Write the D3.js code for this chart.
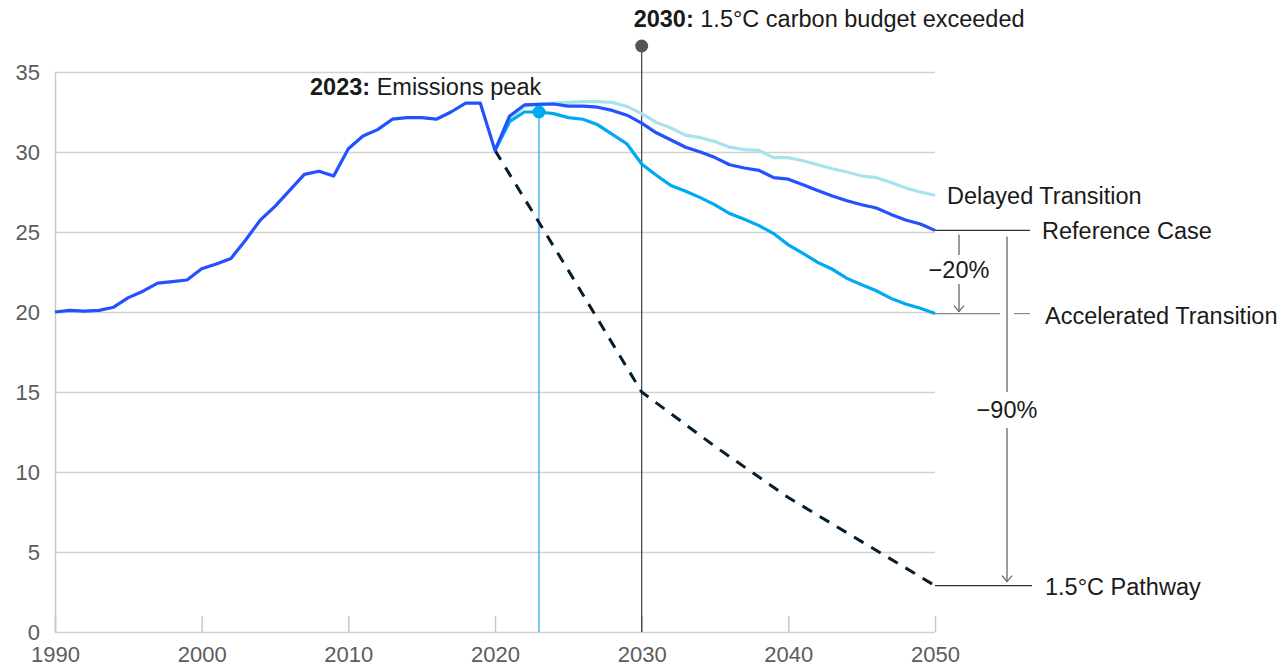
<!DOCTYPE html>
<html>
<head>
<meta charset="utf-8">
<script src="https://cdn.jsdelivr.net/npm/d3@7"></script>
<style>
  body { margin: 0; background: #fff; }
  svg { font-family: "Liberation Sans", Arial, sans-serif; }
  .tick text { fill: #5c5c5c; font-size: 22px; }
  .lbl { fill: #1a1a1a; font-size: 23.5px; }
</style>
</head>
<body>
<svg id="chart" width="1285" height="667"></svg>
<script>
// historical emissions, 1990-2020
const histYears = d3.range(1990, 2021);
const histValues = [
  20.0, 20.1, 20.05, 20.1, 20.3, 20.9, 21.3, 21.8, 21.9, 22.0,
  22.7, 23.0, 23.35, 24.5, 25.75, 26.6, 27.6, 28.6, 28.8, 28.5,
  30.2, 31.0, 31.4, 32.05, 32.15, 32.15, 32.05, 32.5, 33.05, 33.05,
  30.1,
];

// scenarios, 2020-2050
const scenYears = d3.range(2020, 2051);
const referenceCase = [
  30.1, 32.25, 32.94, 32.98, 33.0, 32.87, 32.87, 32.8, 32.6, 32.3,
  31.8, 31.2, 30.75, 30.3, 30.0, 29.65, 29.2, 29.0, 28.85, 28.4,
  28.3, 27.95, 27.6, 27.25, 26.95, 26.7, 26.5, 26.1, 25.75, 25.5,
  25.1,
];
const delayedTransition = [
  30.1, 32.0, 32.85, 33.0, 33.05, 33.1, 33.15, 33.15, 33.1, 32.85,
  32.4, 31.85, 31.5, 31.05, 30.9, 30.65, 30.3, 30.15, 30.1, 29.65,
  29.65, 29.45, 29.2, 28.95, 28.75, 28.5, 28.4, 28.1, 27.75, 27.5,
  27.3,
];
const acceleratedTransition = [
  30.1, 31.9, 32.5, 32.5, 32.4, 32.15, 32.05, 31.7, 31.1, 30.5,
  29.25, 28.55, 27.9, 27.55, 27.15, 26.7, 26.15, 25.8, 25.4, 24.9,
  24.2, 23.67, 23.1, 22.67, 22.1, 21.7, 21.33, 20.85, 20.5, 20.23,
  19.9,
];
const pathwayYears = [2020, 2025, 2030, 2035, 2040, 2045, 2050];
const pathwayValues = [30.1, 22.6, 15.0, 11.6, 8.4, 5.65, 2.9];

const xTicks = [1990, 2000, 2010, 2020, 2030, 2040, 2050];
const yTicks = [0, 5, 10, 15, 20, 25, 30, 35];

const svg = d3.select("#chart");
const x = d3.scaleLinear().domain([1990, 2050]).range([55, 935]);
const y = d3.scaleLinear().domain([0, 35]).range([632, 72]);

const zip = (xs, vs) => xs.map((yr, i) => ({ year: yr, value: vs[i] }));
const line = d3
  .line()
  .x((d) => x(d.year))
  .y((d) => y(d.value));

// y axis + gridlines
const yAxis = svg
  .append("g")
  .attr("transform", "translate(55,0)")
  .call(d3.axisLeft(y).tickValues(yTicks).tickSize(-880).tickSizeOuter(0).tickPadding(15));
yAxis.select(".domain").attr("stroke", "#c8c8c8").attr("stroke-width", 1.5);
yAxis.selectAll(".tick line").attr("stroke", "#d2d2d2").attr("stroke-width", 1.5);

// x axis ticks
const xAxis = svg
  .append("g")
  .attr("transform", "translate(0,632)")
  .call(d3.axisBottom(x).tickValues(xTicks).tickFormat(d3.format("d")).tickSize(-16).tickSizeOuter(0).tickPadding(14));
xAxis.select(".domain").remove();
xAxis.selectAll(".tick line").attr("stroke", "#c8c8c8").attr("stroke-width", 1.5);

// 2030 marker
svg.append("line")
  .attr("x1", x(2030)).attr("x2", x(2030))
  .attr("y1", 46).attr("y2", y(0))
  .attr("stroke", "#3c3c3c").attr("stroke-width", 1.2);
svg.append("circle").attr("cx", x(2030)).attr("cy", 46).attr("r", 6.5).attr("fill", "#555");
const t2030 = svg.append("text").attr("class", "lbl").attr("x", x(2030) - 8).attr("y", 27);
t2030.append("tspan").attr("font-weight", "bold").text("2030:");
t2030.append("tspan").text(" 1.5°C carbon budget exceeded");

// 2023 marker line
svg.append("line")
  .attr("x1", x(2023)).attr("x2", x(2023))
  .attr("y1", y(32.5)).attr("y2", y(0))
  .attr("stroke", "#1aa6e6").attr("stroke-width", 1.2);

// series
svg.append("path").datum(zip(scenYears, delayedTransition))
  .attr("d", line).attr("fill", "none").attr("stroke", "#a8e2ec").attr("stroke-width", 3.2);
svg.append("path").datum(zip(scenYears, acceleratedTransition))
  .attr("d", line).attr("fill", "none").attr("stroke", "#00a9f4").attr("stroke-width", 3.2);
svg.append("path").datum(zip(pathwayYears, pathwayValues))
  .attr("d", line).attr("fill", "none").attr("stroke", "#051c2c")
  .attr("stroke-width", 3).attr("stroke-dasharray", "11,9");
svg.append("path").datum(zip(histYears, histValues).concat(zip(scenYears, referenceCase).slice(1)))
  .attr("d", line).attr("fill", "none").attr("stroke", "#2251ff")
  .attr("stroke-width", 3.2).attr("stroke-linejoin", "round");

svg.append("circle").attr("cx", x(2023)).attr("cy", y(32.5)).attr("r", 6.5).attr("fill", "#00a9f4");
const t2023 = svg.append("text").attr("class", "lbl").attr("x", 310).attr("y", 95);
t2023.append("tspan").attr("font-weight", "bold").text("2023:");
t2023.append("tspan").text(" Emissions peak");

// end labels
const endY = (arr) => y(arr[arr.length - 1]);
svg.append("text").attr("class", "lbl").attr("x", 947).attr("y", endY(delayedTransition) + 9).text("Delayed Transition");

svg.append("line").attr("x1", x(2050)).attr("x2", 1030)
  .attr("y1", endY(referenceCase)).attr("y2", endY(referenceCase))
  .attr("stroke", "#333").attr("stroke-width", 1.2);
svg.append("text").attr("class", "lbl").attr("x", 1042).attr("y", endY(referenceCase) + 9).text("Reference Case");

svg.append("line").attr("x1", x(2050)).attr("x2", 1000)
  .attr("y1", endY(acceleratedTransition)).attr("y2", endY(acceleratedTransition))
  .attr("stroke", "#888").attr("stroke-width", 1.2);
svg.append("line").attr("x1", 1014).attr("x2", 1030)
  .attr("y1", endY(acceleratedTransition)).attr("y2", endY(acceleratedTransition))
  .attr("stroke", "#888").attr("stroke-width", 1.2);
svg.append("text").attr("class", "lbl").attr("x", 1045).attr("y", endY(acceleratedTransition) + 10).text("Accelerated Transition");

svg.append("line").attr("x1", x(2050)).attr("x2", 1032)
  .attr("y1", endY(pathwayValues)).attr("y2", endY(pathwayValues))
  .attr("stroke", "#333").attr("stroke-width", 1.2);
svg.append("text").attr("class", "lbl").attr("x", 1045).attr("y", endY(pathwayValues) + 9).text("1.5°C Pathway");

// difference arrows
function arrow(xp, y1, yTextTop, yTextBot, y2, label) {
  const g = svg.append("g").attr("stroke", "#666").attr("stroke-width", 1.3).attr("fill", "none");
  g.append("line").attr("x1", xp).attr("x2", xp).attr("y1", y1).attr("y2", yTextTop);
  g.append("line").attr("x1", xp).attr("x2", xp).attr("y1", yTextBot).attr("y2", y2);
  g.append("path").attr("d", `M${xp - 5},${y2 - 6}L${xp},${y2}L${xp + 5},${y2 - 6}`);
  svg.append("text").attr("class", "lbl").attr("x", xp).attr("y", (yTextTop + yTextBot) / 2 + 8)
    .attr("text-anchor", "middle").text(label);
}
arrow(959, endY(referenceCase) + 4, 255, 284, endY(acceleratedTransition) - 2, "\u221220%");
arrow(1007, endY(referenceCase) + 6, 392, 428, endY(pathwayValues) - 4, "\u221290%");
</script>
</body>
</html>
